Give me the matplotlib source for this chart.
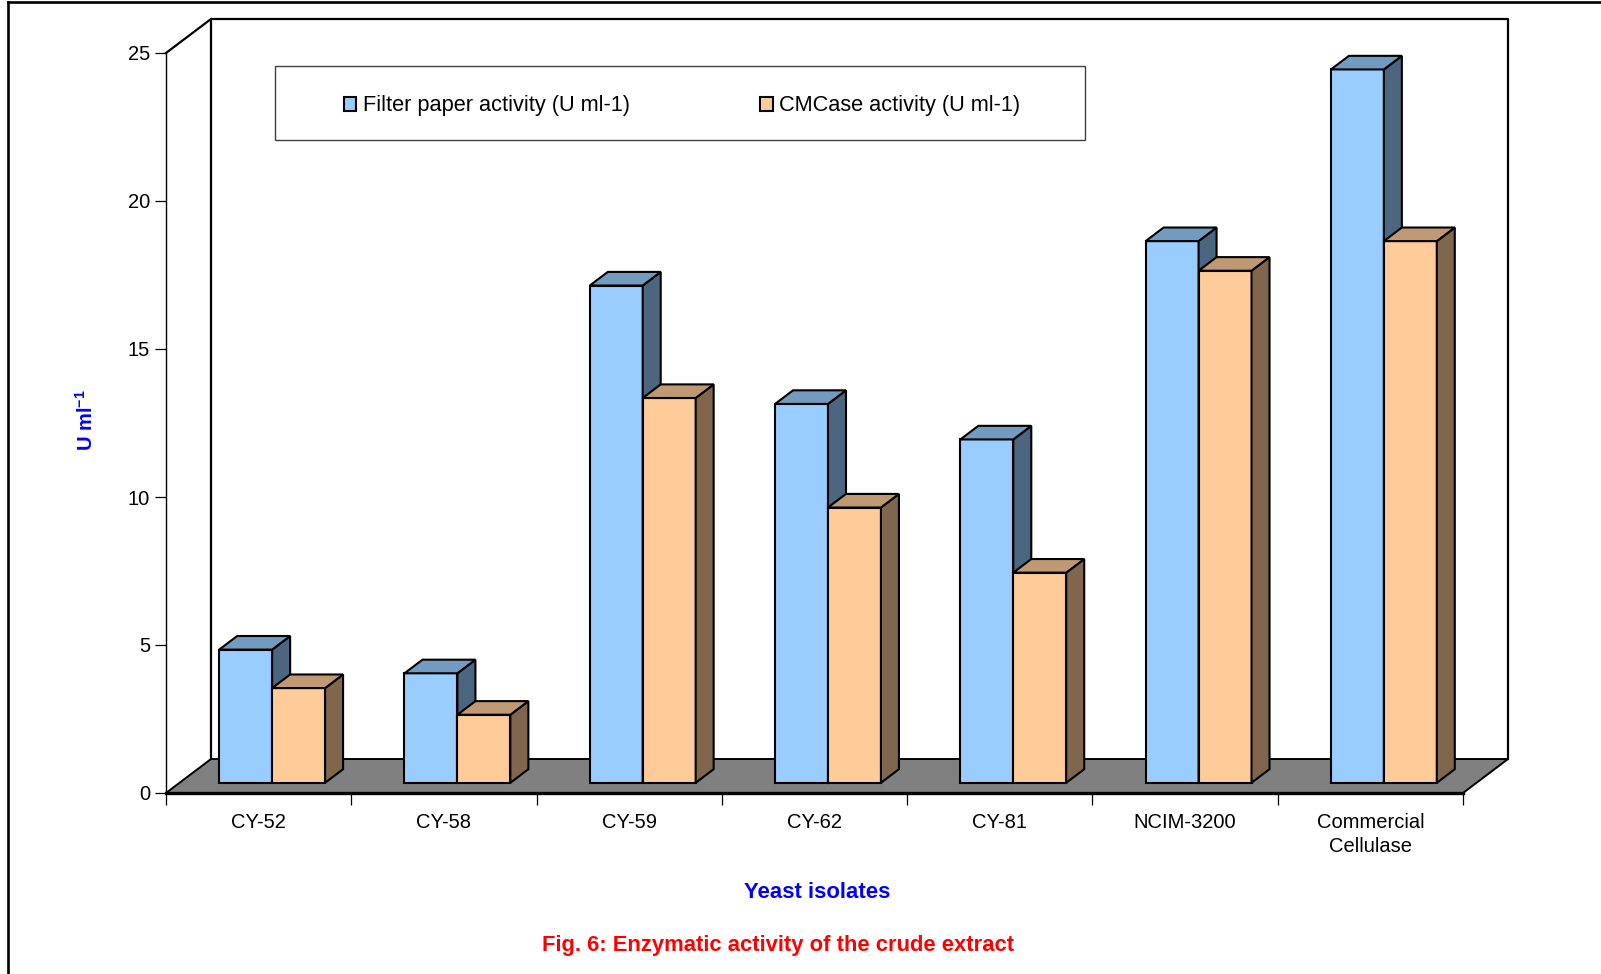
import matplotlib
matplotlib.use("Agg")
import matplotlib.pyplot as plt
from matplotlib.patches import Polygon, Rectangle, Patch
from matplotlib.lines import Line2D

plt.rcParams['font.family'] = ['Liberation Sans', 'DejaVu Sans']
plt.rcParams['mathtext.fontset'] = 'custom'
plt.rcParams['mathtext.rm'] = 'Liberation Sans'
plt.rcParams['mathtext.bf'] = 'Liberation Sans:bold'

# ---- data -------------------------------------------------------------
categories = ["CY-52", "CY-58", "CY-59", "CY-62", "CY-81", "NCIM-3200",
              "Commercial\nCellulase"]
filter_paper = [4.5, 3.7, 16.8, 12.8, 11.6, 18.3, 24.1]
cmcase = [3.2, 2.3, 13.0, 9.3, 7.1, 17.3, 18.3]
series_names = ["Filter paper activity (U ml-1)", "CMCase activity (U ml-1)"]
yticks = [0, 5, 10, 15, 20, 25]

# ---- colours (front, top, side) --------------------------------------
blue = ("#99CCFF", "#739ABF", "#4C6680")
orange = ("#FFCC99", "#BF9973", "#80664C")

W, H = 1601, 974
fig = plt.figure(figsize=(W / 100, H / 100), dpi=100)


def fx(px):
    return px / W


def fy(py):
    return 1 - py / H


# front plane of the box
left, right, base, top = 166, 1463, 793, 53
ax = fig.add_axes([fx(left), fy(base), (right - left) / W, (base - top) / H])
ncat = len(categories)
ax.set_xlim(0, ncat)
ax.set_ylim(0, 25)
ax.patch.set_visible(False)

# oblique depth of the box, expressed in data units
px_per_cat = (right - left) / ncat
px_per_val = (base - top) / 25
DX = 45 / px_per_cat
DY = 34 / px_per_val

# back wall edges and side wall top
ax.plot([DX, DX, ncat + DX, ncat + DX], [DY, 25 + DY, 25 + DY, DY],
        color="black", lw=1.6, clip_on=False, zorder=1)
ax.plot([0, DX], [25, 25 + DY], color="black", lw=1.6, clip_on=False, zorder=1)

# floor
floor = Polygon([(0, 0), (ncat, 0), (ncat + DX, DY), (DX, DY)], closed=True,
                facecolor="#808080", edgecolor="black", lw=1.4,
                clip_on=False, zorder=2)
ax.add_patch(floor)
ax.plot([0, ncat], [0, 0], color="black", lw=2.4, clip_on=False, zorder=2.5)

# bars: front faces through ax.bar, top / side faces as polygons
bw = 1 / 3.5
d0, dd = 0.3, 0.4
centers = [i + 0.5 for i in range(ncat)]


def faces(x0, h, cols, z):
    xa, xb = x0 + d0 * DX, x0 + bw + d0 * DX
    ya = d0 * DY
    ox, oy = dd * DX, dd * DY
    top_face = Polygon([(xa, h + ya), (xb, h + ya), (xb + ox, h + ya + oy),
                        (xa + ox, h + ya + oy)], closed=True,
                       facecolor=cols[1], edgecolor="black", lw=1.5,
                       joinstyle="miter", clip_on=False, zorder=z)
    side_face = Polygon([(xb, ya), (xb + ox, ya + oy), (xb + ox, h + ya + oy),
                         (xb, h + ya)], closed=True,
                        facecolor=cols[2], edgecolor="black", lw=1.5,
                        joinstyle="miter", clip_on=False, zorder=z)
    ax.add_patch(side_face)
    ax.add_patch(top_face)


for k, (vals, cols, off) in enumerate([(filter_paper, blue, -bw),
                                       (cmcase, orange, 0.0)]):
    z = 3 + k
    xs = [c + off + d0 * DX for c in centers]
    ax.bar(xs, vals, width=bw, bottom=d0 * DY, align="edge",
           color=cols[0], edgecolor="black", lw=1.5, clip_on=False, zorder=z)
    for c, v in zip(centers, vals):
        faces(c + off, v, cols, z)

# axes styling
for s in ["top", "right", "bottom"]:
    ax.spines[s].set_visible(False)
ax.spines["left"].set_color("black")
ax.spines["left"].set_linewidth(1.0)
ax.set_yticks(yticks)
ax.tick_params(axis="y", direction="out", length=7.9, width=0.9,
               pad=3.6, labelsize=14.5, colors="black")
ax.set_xticks(range(ncat + 1))
ax.set_xticklabels([])
ax.tick_params(axis="x", which="major", direction="out", length=8.6,
               width=0.9, colors="black")
ax.set_xticks(centers, minor=True)
ax.set_xticklabels(categories, minor=True)
ax.tick_params(axis="x", which="minor", length=0, pad=14.5, labelsize=14.5)
for lab in ax.get_xticklabels(minor=True):
    lab.set_linespacing(1.3)

# legend on the back wall
fig.patches.append(Rectangle((fx(275), fy(140)), (1085 - 275) / W, 74 / H,
                             transform=fig.transFigure, facecolor="white",
                             edgecolor="#404040", lw=1.0, zorder=0.5))
handles = [Patch(facecolor=blue[0], edgecolor="black", lw=1.5),
           Patch(facecolor=orange[0], edgecolor="black", lw=1.5)]
fig.legend(handles, series_names, loc="center",
           bbox_to_anchor=(fx(682), fy(106)), ncol=2, frameon=False,
           fontsize=15.7, handlelength=0.57, handleheight=0.57,
           handletextpad=0.28, columnspacing=6.0)

# titles
fig.text(fx(86), fy(420), r"U ml$^{\mathbf{-1}}$", rotation=90, color="blue",
         fontsize=14.5, fontweight="bold", ha="center", va="center")
fig.text(fx(817), fy(892), "Yeast isolates", color="blue", fontsize=15.9,
         fontweight="bold", ha="center", va="center")
fig.text(fx(778), fy(946), "Fig. 6: Enzymatic activity of the crude extract",
         color="red", fontsize=15.8, fontweight="bold", ha="center",
         va="center")

# page frame (left and top rules)
fig.lines.append(Line2D([fx(8), fx(8)], [0, fy(2)], transform=fig.transFigure,
                        color="black", lw=1.9))
fig.lines.append(Line2D([fx(8), 1], [fy(2), fy(2)], transform=fig.transFigure,
                        color="black", lw=1.9))

fig.savefig("out.png", dpi=100, facecolor="white")
